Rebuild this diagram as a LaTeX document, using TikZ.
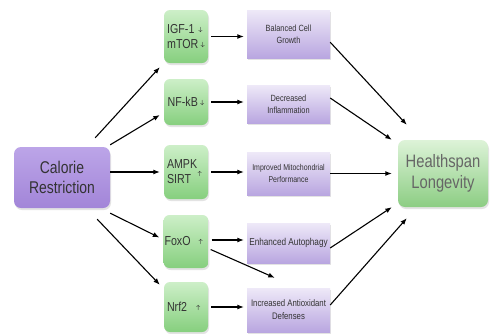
\documentclass[tikz,border=0pt]{standalone}
\usepackage{amsmath}
\usepackage{fontspec}
\setmainfont{Liberation Sans}[FakeStretch=0.82]
\usetikzlibrary{arrows.meta,shadows}
\definecolor{crtop}{HTML}{BCA5E8}
\definecolor{crbot}{HTML}{A285D8}
\definecolor{grtop}{HTML}{CDEFC8}
\definecolor{grbot}{HTML}{86CF7E}
\definecolor{pptop}{HTML}{EEE9F8}
\definecolor{ppbot}{HTML}{B9A6E0}
\definecolor{hstop}{HTML}{DDF3D8}
\definecolor{hsbot}{HTML}{8CCD83}
\definecolor{txtdark}{HTML}{333333}
\definecolor{txtgrey}{HTML}{666666}
\newcommand{\sdn}{\raisebox{2pt}{\fontsize{6}{6}\selectfont$\boldsymbol{\downarrow}$}}
\newcommand{\smallup}{\raisebox{2pt}{\fontsize{6}{6}\selectfont$\boldsymbol{\uparrow}$}}
\begin{document}
\begin{tikzpicture}[x=1pt,y=-1pt,
  boxshadow/.style={drop shadow={opacity=0.22,shadow xshift=1pt,shadow yshift=-2pt}},
  crbox/.style={rounded corners=7pt,top color=crtop,bottom color=crbot,
    minimum width=96pt,minimum height=61pt,inner sep=1pt,align=center,
    text=txtdark,font=\fontsize{17}{20}\selectfont,boxshadow},
  grbox/.style={rounded corners=6pt,top color=grtop,bottom color=grbot,
    minimum width=44pt,inner sep=1pt,align=left,text=txtdark,
    font=\fontsize{13}{16}\selectfont,boxshadow},
  ppbox/.style={top color=pptop,bottom color=ppbot,minimum width=83pt,
    inner sep=1pt,align=center,text=txtdark,
    font=\fontsize{9}{12}\selectfont,boxshadow},
  hsbox/.style={rounded corners=7pt,top color=hstop,bottom color=hsbot,
    minimum width=90pt,minimum height=67pt,inner sep=1pt,align=center,
    text=txtgrey,font=\fontsize{18}{21}\selectfont,boxshadow},
  upar/.style={text=txtdark,inner sep=0pt},
  arr/.style={line width=1.1pt,-{Latex[length=6.5pt,width=5pt]}}]
\useasboundingbox (0,0) rectangle (491,333);
\fill[white] (0,0) rectangle (491,333);

\node[crbox] (cr) at (62,177.5) {Calorie\\Restriction};

\node[grbox,minimum height=53pt] (igf) at (186,36.5) {IGF-1\hspace{4pt}\sdn\\[-1pt]mTOR\,\sdn};
\node[grbox,minimum height=46pt] (nf) at (186,102) {NF-kB\,\sdn};
\node[grbox,minimum height=54pt,text width=38pt] (ampk) at (186,172) {AMPK\\[-1pt]SIRT};
\node[upar] (ampkup) at (202,174) {\smallup};
\node[grbox,minimum height=53pt] (foxo) at (186,241.5) {FoxO\hspace{8pt}\smallup};
\node[grbox,minimum height=50pt] (nrf) at (186,307) {Nrf2\hspace{9pt}\smallup};

\node[ppbox,minimum height=48pt] (bal) at (288.5,34) {Balanced Cell\\Growth};
\node[ppbox,minimum height=38pt] (dec) at (288.5,104) {Decreased\\Inflammation};
\node[ppbox,minimum height=43pt,font=\fontsize{8.5}{11.5}\selectfont] (imp) at (288.5,173.5) {Improved Mitochondrial\\Performance};
\node[ppbox,minimum height=40pt,font=\fontsize{10}{12}\selectfont] (enh) at (288.5,243) {Enhanced Autophagy};
\node[ppbox,minimum height=44pt,font=\fontsize{9.5}{13}\selectfont] (inc) at (288.5,310) {Increased Antioxidant\\Defenses};

\node[hsbox] (hs) at (443,173.5) {Healthspan\\Longevity};

% Calorie restriction to pathways
\draw[arr] ([shift={(-15,-9)}]cr.north east) -- ([shift={(-4,4)}]igf.south west);
\draw[arr] ([shift={(0,-2)}]cr.north east) -- ([shift={(-4,13)}]nf.west);
\draw[arr] (cr.east |- ampk.west) -- ([xshift=-4pt]ampk.west);
\draw[arr] ([shift={(0,5)}]cr.south east) -- ([shift={(-4,-4)}]foxo.west);
\draw[arr] ([shift={(-13,11)}]cr.south east) -- ([shift={(-4,3)}]nrf.north west);

% pathways to effects
\draw[arr] ([xshift=3pt]igf.east) -- ([xshift=-3pt]igf.east -| bal.west);
\draw[arr] ([xshift=3pt]nf.east) -- ([xshift=-3pt]nf.east -| dec.west);
\draw[arr] ([xshift=3pt]ampk.east) -- ([xshift=-3pt]ampk.east -| imp.west);
\draw[arr] ([shift={(3,-1.5)}]foxo.east) -- ([shift={(-3,-1.5)}]foxo.east -| enh.west);
\draw[arr] ([xshift=3pt]nrf.east) -- ([xshift=-3pt]nrf.east -| inc.west);
\draw[arr] ([shift={(2,8)}]foxo.east) -- ([shift={(28,-10)}]inc.north west);

% effects to healthspan
\draw[arr] ([shift={(0,-16)}]bal.south east) -- ([shift={(9,-15)}]hs.north west);
\draw[arr] ([shift={(0,-6)}]dec.east) -- ([shift={(-6,0)}]hs.north west);
\draw[arr] (imp.east) -- ([xshift=-6pt]imp.east -| hs.west);
\draw[arr] ([shift={(0,5)}]enh.east) -- ([shift={(-6,0)}]hs.south west);
\draw[arr] ([shift={(0,-5)}]inc.east) -- ([shift={(9,11)}]hs.south west);
\end{tikzpicture}
\end{document}
